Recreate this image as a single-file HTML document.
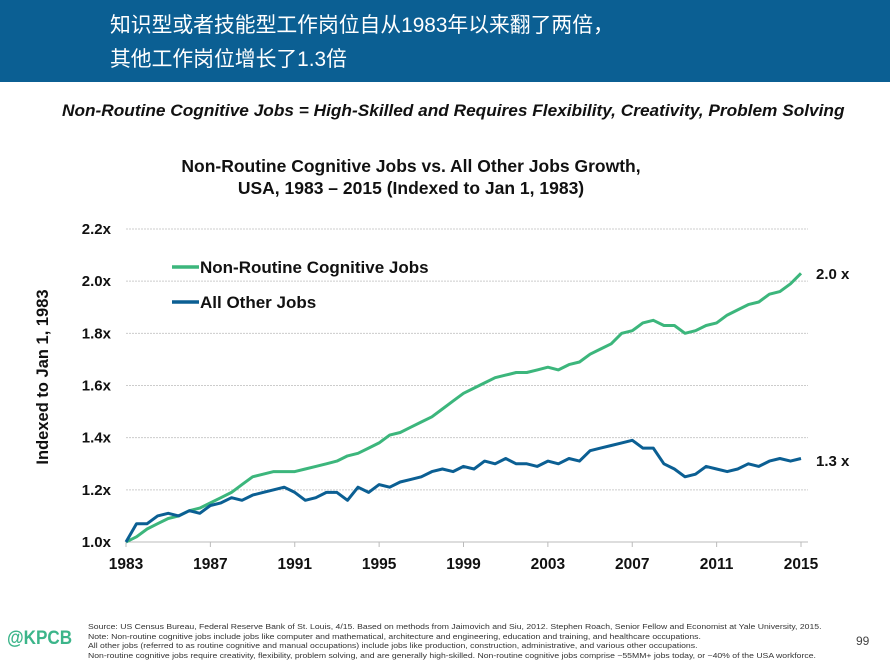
<!DOCTYPE html>
<html><head><meta charset="utf-8"><style>
body{margin:0;width:890px;height:668px;background:#fff;overflow:hidden;font-family:"Liberation Sans","Noto Sans CJK SC",sans-serif;position:relative}
.hdr{position:absolute;left:0;top:0;width:890px;height:82px;background:#0b5f93}
.hdr div{position:absolute;left:110px;color:#fff;font-size:20.8px}
.sub{position:absolute;left:62px;top:101px;font-size:17px;font-weight:bold;font-style:italic;color:#111;white-space:nowrap;transform:scaleX(1.015);transform-origin:left}
.foot{position:absolute;left:88px;top:622px;font-size:7.4px;line-height:9.6px;color:#333;white-space:nowrap;transform:scaleX(1.17);transform-origin:left}
</style></head><body>
<div class="hdr">
<div style="top:8px">知识型或者技能型工作岗位自从1983年以来翻了两倍，</div>
<div style="top:42px">其他工作岗位增长了1.3倍</div>
</div>
<div class="sub">Non-Routine Cognitive Jobs = High-Skilled and Requires Flexibility, Creativity, Problem Solving</div>
<svg id="chart" width="890" height="668" style="position:absolute;left:0;top:0"></svg>
<div class="foot">Source: US Census Bureau, Federal Reserve Bank of St. Louis, 4/15. Based on methods from Jaimovich and Siu, 2012. Stephen Roach, Senior Fellow and Economist at Yale University, 2015.<br>Note: Non-routine cognitive jobs include jobs like computer and mathematical, architecture and engineering, education and training, and healthcare occupations.<br>All other jobs (referred to as routine cognitive and manual occupations) include jobs like production, construction, administrative, and various other occupations.<br>Non-routine cognitive jobs require creativity, flexibility, problem solving, and are generally high-skilled. Non-routine cognitive jobs comprise ~55MM+ jobs today, or ~40% of the USA workforce.</div>
<div style="position:absolute;left:7px;top:628px;font-size:19px;color:#3cb58a;font-weight:bold;transform:scaleX(0.9);transform-origin:left">@KPCB</div>
<div style="position:absolute;left:856px;top:634px;font-size:12px;color:#444">99</div>
<script>
const yTicks=[1.0,1.2,1.4,1.6,1.8,2.0,2.2];
const yTickLabels=["1.0x","1.2x","1.4x","1.6x","1.8x","2.0x","2.2x"];
const xTicks=[1983,1987,1991,1995,1999,2003,2007,2011,2015];
const startYear=1983;
const stepYears=0.5;
const nonRoutine=[1.00,1.02,1.05,1.07,1.09,1.10,1.12,1.13,1.15,1.17,1.19,1.22,1.25,1.26,1.27,1.27,1.27,1.28,1.29,1.30,1.31,1.33,1.34,1.36,1.38,1.41,1.42,1.44,1.46,1.48,1.51,1.54,1.57,1.59,1.61,1.63,1.64,1.65,1.65,1.66,1.67,1.66,1.68,1.69,1.72,1.74,1.76,1.80,1.81,1.84,1.85,1.83,1.83,1.80,1.81,1.83,1.84,1.87,1.89,1.91,1.92,1.95,1.96,1.99,2.03];
const allOther=[1.00,1.07,1.07,1.10,1.11,1.10,1.12,1.11,1.14,1.15,1.17,1.16,1.18,1.19,1.20,1.21,1.19,1.16,1.17,1.19,1.19,1.16,1.21,1.19,1.22,1.21,1.23,1.24,1.25,1.27,1.28,1.27,1.29,1.28,1.31,1.30,1.32,1.30,1.30,1.29,1.31,1.30,1.32,1.31,1.35,1.36,1.37,1.38,1.39,1.36,1.36,1.30,1.28,1.25,1.26,1.29,1.28,1.27,1.28,1.30,1.29,1.31,1.32,1.31,1.32];
const endLabels=["2.0 x","1.3 x"];
const NS="http://www.w3.org/2000/svg";
const svg=document.getElementById('chart');
const X=v=>126+(v-1983)*(801-126)/32;
const Y=v=>542-(v-1)*(542-229)/1.2;
function mk(t,a,txt){const e=document.createElementNS(NS,t);for(const k in a)e.setAttribute(k,a[k]);if(txt!==undefined)e.textContent=txt;svg.appendChild(e);return e;}
let t=mk('text',{x:411,y:172,'text-anchor':'middle','font-size':'17.5','font-weight':'bold',fill:'#111'},'Non-Routine Cognitive Jobs vs. All Other Jobs Growth,');


t=mk('text',{x:411,y:194,'text-anchor':'middle','font-size':'17.5','font-weight':'bold',fill:'#111'},'USA, 1983 – 2015 (Indexed to Jan 1, 1983)');


yTicks.forEach((v,i)=>{
 const l=mk('line',{x1:126,x2:808,y1:Y(v),y2:Y(v),stroke:i==0?'#bbb':'#ccc','stroke-width':1,'stroke-dasharray':i==0?'':'2,1'});
 
 
 const tx=mk('text',{x:111,y:Y(v)+5,'text-anchor':'end','font-size':'15','font-weight':'bold',fill:'#111'},yTickLabels[i]);
 
 
});
xTicks.forEach(v=>{
 const l=mk('line',{x1:X(v),x2:X(v),y1:542,y2:547,stroke:'#bbb'});
 
 
 const tx=mk('text',{x:X(v),y:569,'text-anchor':'middle','font-size':'15.5','font-weight':'bold',fill:'#111'},v);
 
 
});
t=mk('text',{x:0,y:0,transform:'translate(48,377) rotate(-90)','text-anchor':'middle','font-size':'16.5','font-weight':'bold',fill:'#111'},'Indexed to Jan 1, 1983');


function line(arr,col,name){
 const d=arr.map((v,i)=>(i?'L':'M')+X(startYear+i*stepYears).toFixed(1)+','+Y(v).toFixed(1)).join(' ');
 const p=mk('path',{d:d,fill:'none',stroke:col,'stroke-width':3,'stroke-linejoin':'round'});
 
 
}
line(nonRoutine,'#3cb67c','series-non-routine');
line(allOther,'#0b5f93','series-all-other');
t=mk('text',{x:816,y:279,'font-size':'15','font-weight':'bold',fill:'#111'},endLabels[0]);


t=mk('text',{x:816,y:466,'font-size':'15','font-weight':'bold',fill:'#111'},endLabels[1]);


[['#3cb67c','Non-Routine Cognitive Jobs',267],['#0b5f93','All Other Jobs',302]].forEach(e=>{
 const l=mk('line',{x1:172,x2:199,y1:e[2],y2:e[2],stroke:e[0],'stroke-width':3.5});
 
 
 const tx=mk('text',{x:200,y:e[2]+6,'font-size':'17','font-weight':'bold',fill:'#111'},e[1]);
 
 
});
</script>
</body></html>
